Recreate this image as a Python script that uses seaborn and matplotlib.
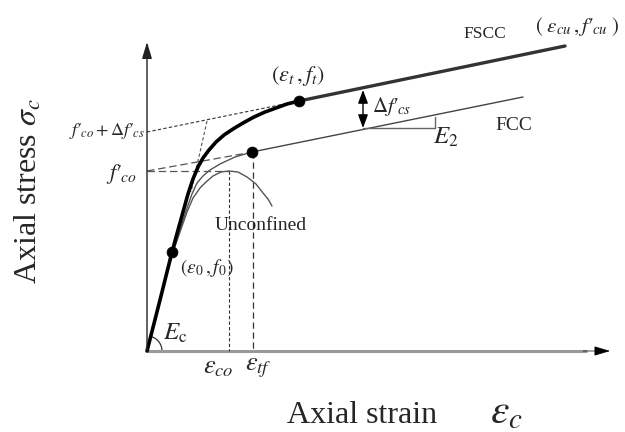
import matplotlib
matplotlib.use("Agg")
import matplotlib.pyplot as plt
from matplotlib.patches import Arc
import seaborn as sns

sns.set_style("white")
plt.rcParams["font.family"] = ["Liberation Serif", "DejaVu Serif"]
plt.rcParams["mathtext.fontset"] = "stix"

# ---- schematic data (strain, stress in drawing units) ----
fscc_curve_strain = [0, 13, 25, 31, 36, 41, 46, 51, 56, 62, 69, 77, 86, 96, 107, 118, 129, 140, 152]
fscc_curve_stress = [0, 51, 99, 121, 139, 157, 172, 184, 193, 201, 209, 216, 222, 228, 234, 239, 243, 247, 250]
fscc_line_strain = [152, 418]
fscc_line_stress = [250, 305]
fcc_curve_strain = [0, 13, 25, 33, 40, 45, 50, 56, 63, 73, 88, 105]
fcc_curve_stress = [0, 51, 96, 121, 143, 157, 168, 175, 181, 187, 194, 199]
fcc_line_strain = [105, 376]
fcc_line_stress = [199, 254]
unconf_strain = [0, 13, 25, 33, 40, 46, 53, 59, 66, 74, 82, 91, 100, 109, 116, 121, 125]
unconf_stress = [0, 51, 96, 119, 139, 153, 163, 169, 175, 179, 180, 179, 174, 167, 158, 152, 145]
key_strain = [25, 105, 152]
key_stress = [99, 199, 250]
eps_co, f_co = 82, 180
eps_tf, f_tf = 106, 199
f_co_plus = 219
eps_t, f_t = 152, 250

fig = plt.figure(figsize=(6.25, 4.32), dpi=100)
ax = fig.add_axes([0, 0, 1, 1])
ax.set_xlim(-147, 478)
ax.set_ylim(-81, 351)
ax.axis("off")

# axes with arrows
ax.annotate("", xy=(0, 309), xytext=(0, 0),
            arrowprops=dict(arrowstyle="-|>,head_length=1.0,head_width=0.3", color="#222222", lw=1.0,
                            shrinkA=0, shrinkB=0))
ax.plot([0, 440], [0, 0], color="#999999", lw=2.2, solid_capstyle="butt")
ax.annotate("", xy=(463, 0), xytext=(436, 0),
            arrowprops=dict(arrowstyle="-|>,head_length=1.0,head_width=0.3", color="black", lw=0.5,
                            shrinkA=0, shrinkB=0))

# dashed guides
ax.plot([0, eps_co], [f_co, f_co], ls=(0, (6, 3)), color="#555555", lw=0.9)
ax.plot([0, eps_tf], [f_co, f_tf], ls=(0, (6, 3)), color="#555555", lw=0.9)
ax.plot([0, eps_t], [f_co_plus, f_t], ls=(0, (3, 2)), color="#333333", lw=0.8)
ax.plot([60, 44], [230, 159], ls=(0, (3, 2)), color="#555555", lw=0.8)
ax.plot([eps_co, eps_co], [f_co, 0], ls=(0, (3, 2)), color="#333333", lw=0.8)
ax.plot([eps_tf, eps_tf], [f_tf, 0], ls=(0, (5, 3)), color="#333333", lw=0.9)

# curves
sns.lineplot(x=unconf_strain, y=unconf_stress, sort=False, ax=ax, color="#555555", lw=1.0)
sns.lineplot(x=fcc_curve_strain, y=fcc_curve_stress, sort=False, ax=ax, color="#555555", lw=1.0)
sns.lineplot(x=fcc_line_strain, y=fcc_line_stress, sort=False, ax=ax, color="#444444", lw=1.0)
sns.lineplot(x=fscc_curve_strain, y=fscc_curve_stress, sort=False, ax=ax, color="black", lw=2.6)
sns.lineplot(x=fscc_line_strain, y=fscc_line_stress, sort=False, ax=ax, color="#333333", lw=2.4)
sns.scatterplot(x=key_strain, y=key_stress, ax=ax, color="black", s=60, zorder=5, edgecolor="black")

# delta arrow and E2 triangle
ax.annotate("", xy=(216, 261), xytext=(216, 223),
            arrowprops=dict(arrowstyle="<|-|>,head_length=0.8,head_width=0.3", color="black", lw=1.0,
                            shrinkA=0, shrinkB=0))
ax.plot([216, 288, 288], [223, 223, 234], color="#666666", lw=1.0)

# angle arc
ax.add_patch(Arc((0, 0), 30, 30, theta1=0, theta2=76, color="#333333", lw=0.9))

# texts
ax.text(-2, 220, r"$f′_{\!co}+\Delta f′_{\!cs}$", ha="right", va="center", fontsize=13)
ax.text(-10, 177, r"$f′_{\!co}$", ha="right", va="center", fontsize=16)
ax.text(151, 275, r"$(\varepsilon_t\,,f_t)$", ha="center", va="center", fontsize=16)
ax.text(225, 245, r"$\Delta f′_{\!cs}$", ha="left", va="center", fontsize=15)
ax.text(286, 214, r"$E_2$", ha="left", va="center", fontsize=18)
ax.text(316, 317, "FSCC", ha="left", va="center", fontsize=12.5)
ax.text(388, 324, r"$(\ \varepsilon_{cu}\,,f′_{\!cu}\ )$", ha="left", va="center", fontsize=15)
ax.text(348, 226, "FCC", ha="left", va="center", fontsize=14)
ax.text(68, 125, "Unconfined", ha="left", va="center", fontsize=14)
ax.text(33, 83, r"$(\varepsilon_0\,,f_0)$", ha="left", va="center", fontsize=14)
ax.text(16, 18, r"$E_\mathrm{c}$", ha="left", va="center", fontsize=18)
ax.text(56, -17, r"$\varepsilon_{co}$", ha="left", va="center", fontsize=19)
ax.text(98, -17, r"$\varepsilon_{tf}$", ha="left", va="center", fontsize=19)
ax.text(140, -72, "Axial strain", ha="left", va="baseline", fontsize=23)
ax.text(343, -72, r"$\varepsilon_c$", ha="left", va="baseline", fontsize=30)
ax.text(-110, 67, r"Axial stress $\sigma_c$", ha="left", va="baseline", fontsize=23,
        rotation=90, rotation_mode="anchor")

fig.savefig("out.png", dpi=100)
